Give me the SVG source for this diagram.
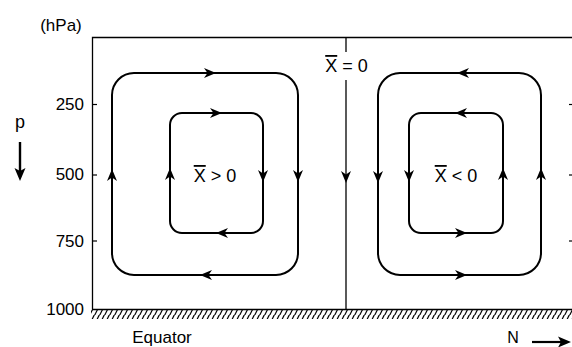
<svg xmlns="http://www.w3.org/2000/svg" xmlns:xlink="http://www.w3.org/1999/xlink" width="572" height="347" viewBox="0 0 572 347">
<style>
text{font-family:"Liberation Sans",Arial,sans-serif;fill:#000}
.ax{font-size:17px;text-anchor:end}
.lbl{font-size:18px;text-anchor:middle}
.frame{stroke:#000;stroke-width:1.3;fill:none}
.loop{stroke:#000;stroke-width:2;fill:none}
.tick{stroke:#000;stroke-width:1.2}
.ah{fill:#000}
</style>
<defs>
<path id="ah" d="M0,0 L-12,-5 L-8.5,0 L-12,5 Z"/>
<path id="ahb" d="M0,0 L-13,-5.5 L-10,0 L-13,5.5 Z"/>
<pattern id="hatch" patternUnits="userSpaceOnUse" width="5" height="9">
<line x1="-0.5" y1="9.5" x2="4.5" y2="-0.5" stroke="#000" stroke-width="1.2"/>
<line x1="4.5" y1="9.5" x2="9.5" y2="-0.5" stroke="#000" stroke-width="1.2"/>
</pattern>
</defs>
<rect width="572" height="347" fill="#fff"/>
<g id="axes">
<rect x="91" y="310" width="481" height="9" fill="url(#hatch)"/>
<path class="frame" d="M572,37.5 H92.5 V309.5 H572"/>
<line class="tick" x1="92.5" y1="104.5" x2="97" y2="104.5"/>
<line class="tick" x1="92.5" y1="175" x2="97" y2="175"/>
<line class="tick" x1="92.5" y1="241" x2="97" y2="241"/>
<line class="tick" x1="569" y1="104.5" x2="572" y2="104.5" stroke="#888"/>
<line class="tick" x1="569" y1="175" x2="572" y2="175" stroke="#888"/>
<line class="tick" x1="569" y1="241" x2="572" y2="241" stroke="#888"/>
<text x="61" y="31" style="font-size:17px;text-anchor:middle">(hPa)</text>
<text class="ax" x="84" y="110">250</text>
<text class="ax" x="84" y="180">500</text>
<text class="ax" x="84" y="247">750</text>
<text class="ax" x="84" y="315">1000</text>
<text x="20" y="128" style="font-size:18px;text-anchor:middle">p</text>
<line x1="20" y1="142" x2="20" y2="172" stroke="#000" stroke-width="2.4"/>
<use xlink:href="#ahb" href="#ahb" transform="translate(20,181) rotate(90)"/>
<text x="513" y="343" style="font-size:16px;text-anchor:middle">N</text>
<text x="162" y="343" style="font-size:17px;text-anchor:middle">Equator</text>
<line x1="532" y1="342" x2="562" y2="342" stroke="#000" stroke-width="2.2"/>
<use xlink:href="#ahb" href="#ahb" transform="translate(571,342)"/>
</g>
<g id="cell-left">
<rect class="loop" x="112" y="73" width="186" height="202" rx="22"/>
<rect class="loop" x="170" y="113" width="93" height="120" rx="12"/>
<text class="lbl" x="215" y="182"><tspan text-decoration="overline">X</tspan> &gt; 0</text>
</g>
<g id="cell-right">
<rect class="loop" x="378" y="73" width="163" height="202" rx="22"/>
<rect class="loop" x="409" y="113" width="94" height="120" rx="12"/>
<text class="lbl" x="456" y="182"><tspan text-decoration="overline">X</tspan> &lt; 0</text>
</g>
<g id="divider">
<line x1="346" y1="37.5" x2="346" y2="52" stroke="#000" stroke-width="1.3"/>
<line x1="346" y1="80" x2="346" y2="309.5" stroke="#000" stroke-width="1.3"/>
<text class="lbl" x="346.5" y="72"><tspan text-decoration="overline">X</tspan> = 0</text>
</g>
<g id="connectors" class="ah">
<use href="#ah" transform="translate(216,73)"/>
<use href="#ah" transform="translate(298,182) rotate(90)"/>
<use href="#ah" transform="translate(200,275) rotate(180)"/>
<use href="#ah" transform="translate(112,169) rotate(-90)"/>
<use href="#ah" transform="translate(222,113)"/>
<use href="#ah" transform="translate(263,182) rotate(90)"/>
<use href="#ah" transform="translate(216,233) rotate(180)"/>
<use href="#ah" transform="translate(170,168) rotate(-90)"/>
<use href="#ah" transform="translate(457,73) rotate(180)"/>
<use href="#ah" transform="translate(378,183) rotate(90)"/>
<use href="#ah" transform="translate(467,275)"/>
<use href="#ah" transform="translate(541,168) rotate(-90)"/>
<use href="#ah" transform="translate(455,113) rotate(180)"/>
<use href="#ah" transform="translate(409,182) rotate(90)"/>
<use href="#ah" transform="translate(467,233)"/>
<use href="#ah" transform="translate(503,168) rotate(-90)"/>
<use href="#ah" transform="translate(346,183) rotate(90)"/>
</g>
</svg>
